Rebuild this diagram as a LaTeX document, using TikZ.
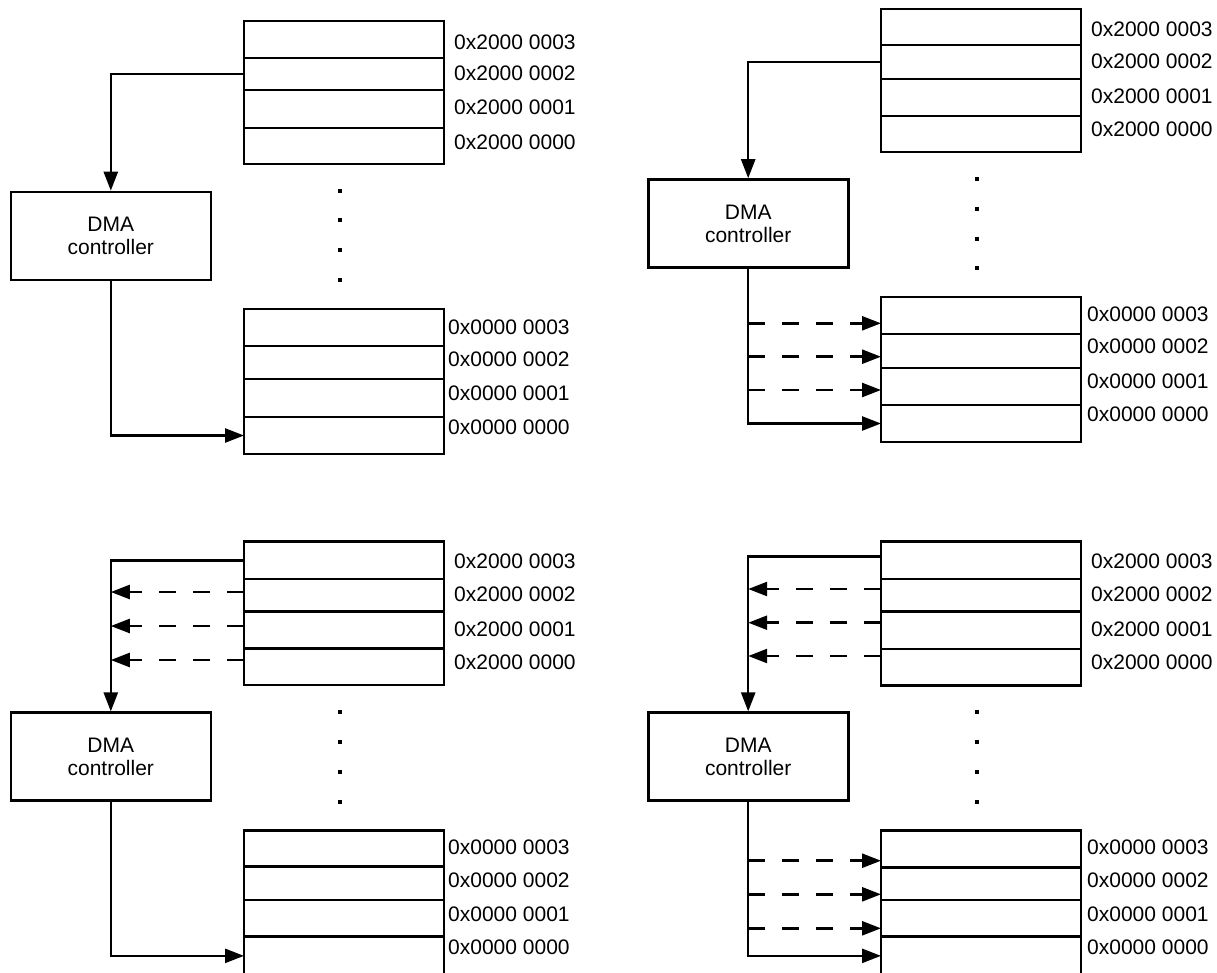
\documentclass[tikz,border=0pt]{standalone}
\usepackage{fontspec}
\setmainfont{Liberation Sans}
\usetikzlibrary{arrows.meta}

\tikzset{
  cell/.style={draw, line width=2.6pt, minimum width=200pt, inner sep=0pt,
    outer sep=0pt, anchor=north west},
  addr/.style={anchor=west, inner sep=0pt, font=\fontsize{21}{24}\selectfont},
  dmabox/.style={draw, line width=2.6pt, minimum width=200pt, minimum height=88pt,
    align=center, inner sep=0pt, font=\fontsize{21}{23}\selectfont},
  link/.style={line width=2.5pt, -{Triangle[length=19pt,width=14pt]}},
  dashlink/.style={link, dash pattern=on 17pt off 17pt},
}

% four stacked memory cells: name prefix, left x, five row boundaries (top to bottom)
\newcommand\memblock[7]{%
  \node[cell, minimum height={#4pt-#3pt}] (#13) at (#2,#3) {};
  \node[cell, minimum height={#5pt-#4pt}] (#12) at (#2,#4) {};
  \node[cell, minimum height={#6pt-#5pt}] (#11) at (#2,#5) {};
  \node[cell, minimum height={#7pt-#6pt}] (#10) at (#2,#6) {};
}
% address labels beside a block: name prefix, x, high word, four y positions
\newcommand\addrlabels[7]{%
  \node[addr] (#13) at (#2,#4) {#3 0003};
  \node[addr] (#12) at (#2,#5) {#3 0002};
  \node[addr] (#11) at (#2,#6) {#3 0001};
  \node[addr] (#10) at (#2,#7) {#3 0000};
}
% vertical ellipsis between the two memory regions
\newcommand\gapdots[5]{%
  \foreach \yy in {#2,#3,#4,#5} \fill (#1-2,\yy-2) rectangle +(4,4);
}

\begin{document}
\begin{tikzpicture}[x=1pt,y=-1pt]
\useasboundingbox (0,0) rectangle (1217,972);
\clip (0,0) rectangle (1217,972);

% ---------- top left: single transfer ----------
\memblock{aH}{244}{21}{58}{90}{128}{164}
\memblock{aL}{244}{309}{346}{379}{417}{454}
\addrlabels{aHt}{454}{0x2000}{42}{73.5}{107}{142}
\addrlabels{aLt}{448}{0x0000}{327}{359}{393}{427}
\node[dmabox] (aDMA) at (110.8,236) {DMA\\controller};
\gapdots{339.5}{191}{220}{250}{279.5}
\draw[link] (aH2.west) -| (aDMA.north);
\draw[link] (aDMA.south) |- (aL0.west);

% ---------- top right: one source, many destinations ----------
\memblock{bH}{881}{9}{45}{79}{116}{152}
\memblock{bL}{881}{297}{334}{368}{405}{442}
\addrlabels{bHt}{1091}{0x2000}{29}{61}{96}{129}
\addrlabels{bLt}{1087}{0x0000}{314}{346}{381}{414}
\node[dmabox] (bDMA) at (748.2,223.5) {DMA\\controller};
\gapdots{977}{179}{209}{239}{268}
\draw[link] (bH2.west) -| (bDMA.north);
\draw[link] (bDMA.south) |- (bL0.west);
\coordinate (bw3) at (bL3.west |- 0,323.3);
\coordinate (bw2) at (bL2.west |- 0,356.7);
\coordinate (bw1) at (bL1.west |- 0,390);
\foreach \c in {bw3,bw2,bw1}
  \draw[dashlink] (bDMA.south |- \c) -- (\c);

% ---------- bottom left: many sources, one destination ----------
\memblock{cH}{244}{541.7}{579}{611.7}{648.7}{685}
\memblock{cL}{244}{830.7}{866.7}{900}{936.7}{975}
\addrlabels{cHt}{454}{0x2000}{561.7}{594}{629}{662.7}
\addrlabels{cLt}{448}{0x0000}{847.7}{880}{914}{947.7}
\node[dmabox] (cDMA) at (110.8,756.7) {DMA\\controller};
\gapdots{340}{712}{742}{772}{801.7}
\draw[link] (cH3.west) -| (cDMA.north);
\coordinate (cr2) at (cH2.west |- 0,592);
\coordinate (cr1) at (cH1.west |- 0,626);
\coordinate (cr0) at (cH0.west |- 0,660);
\foreach \c in {cr2,cr1,cr0}
  \draw[dashlink] (\c) -- (\c -| cDMA.north);
\draw[link] (cDMA.south) |- (cL0.west);

% ---------- bottom right: many sources, many destinations ----------
\memblock{dH}{881}{541.7}{579}{611.7}{649}{685.7}
\memblock{dL}{881}{830.7}{867.3}{900}{936.7}{975}
\addrlabels{dHt}{1091}{0x2000}{561.7}{594}{629}{662.7}
\addrlabels{dLt}{1087}{0x0000}{847.7}{880}{914}{947.7}
\node[dmabox] (dDMA) at (748.2,756.7) {DMA\\controller};
\gapdots{977}{712}{742}{772}{801.7}
\coordinate (dr3) at (dH3.west |- 0,556.7);
\draw[link] (dr3) -| (dDMA.north);
\coordinate (dr2) at (dH2.west |- 0,589);
\coordinate (dr1) at (dH1.west |- 0,622.7);
\coordinate (dr0) at (dH0.west |- 0,656);
\foreach \c in {dr2,dr1,dr0}
  \draw[dashlink] (\c) -- (\c -| dDMA.north);
\coordinate (dw3) at (dL3.west |- 0,860.7);
\coordinate (dw2) at (dL2.west |- 0,894.3);
\coordinate (dw1) at (dL1.west |- 0,928.3);
\foreach \c in {dw3,dw2,dw1}
  \draw[dashlink] (dDMA.south |- \c) -- (\c);
\draw[link] (dDMA.south) |- (dL0.west);
\end{tikzpicture}
\end{document}
